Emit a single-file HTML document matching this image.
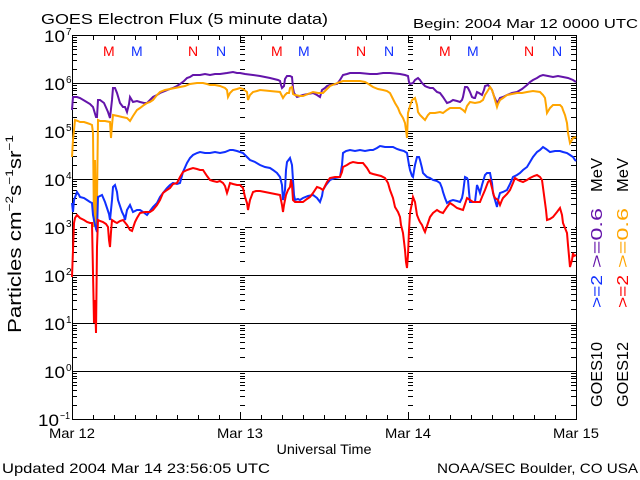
<!DOCTYPE html>
<html><head><meta charset="utf-8"><style>
html,body{margin:0;padding:0;background:#fff;}
svg{display:block;}
text{font-family:"Liberation Sans",sans-serif;}
</style></head><body>
<svg width="640" height="480" viewBox="0 0 640 480" xmlns="http://www.w3.org/2000/svg">
<rect width="640" height="480" fill="#fff"/>
<defs>
<path id="tk" d="M0 37.5h5M0 40.5h5M0 42.5h5M0 46.5h5M0 49.5h5M0 54.5h5M0 60.5h5M0 69.5h5
M0 85.5h5M0 88.5h5M0 90.5h5M0 94.5h5M0 97.5h5M0 102.5h5M0 108.5h5M0 117.5h5
M0 133.5h5M0 136.5h5M0 138.5h5M0 142.5h5M0 145.5h5M0 150.5h5M0 156.5h5M0 165.5h5
M0 181.5h5M0 184.5h5M0 186.5h5M0 190.5h5M0 193.5h5M0 198.5h5M0 204.5h5M0 213.5h5
M0 229.5h5M0 232.5h5M0 234.5h5M0 238.5h5M0 241.5h5M0 246.5h5M0 252.5h5M0 261.5h5
M0 277.5h5M0 280.5h5M0 282.5h5M0 286.5h5M0 289.5h5M0 294.5h5M0 300.5h5M0 309.5h5
M0 325.5h5M0 328.5h5M0 330.5h5M0 334.5h5M0 337.5h5M0 342.5h5M0 348.5h5M0 357.5h5
M0 373.5h5M0 376.5h5M0 378.5h5M0 382.5h5M0 385.5h5M0 390.5h5M0 396.5h5M0 405.5h5" stroke="#000" stroke-width="1" fill="none"/>
</defs>

<!-- grid -->
<path d="M72 83.5H576M72 131.5H576M72 179.5H576M72 275.5H576M72 323.5H576M72 371.5H576" stroke="#000" stroke-width="1"/>
<path d="M72 227.5H576" stroke="#000" stroke-width="1" stroke-dasharray="7 8" stroke-dashoffset="7"/>

<!-- axes box -->
<rect x="72.5" y="35.5" width="504" height="384" fill="none" stroke="#000" stroke-width="1"/>

<!-- y ticks -->
<use href="#tk" x="72"/>
<use href="#tk" x="240"/>
<use href="#tk" x="408"/>
<use href="#tk" transform="translate(576,0) scale(-1,1)"/>

<!-- x ticks -->
<path d="M93.5 419v-4M114.5 419v-4M135.5 419v-4M156.5 419v-4M177.5 419v-4M198.5 419v-4M219.5 419v-4M261.5 419v-4M282.5 419v-4M303.5 419v-4M324.5 419v-4M345.5 419v-4M366.5 419v-4M387.5 419v-4M429.5 419v-4M450.5 419v-4M471.5 419v-4M492.5 419v-4M513.5 419v-4M534.5 419v-4M555.5 419v-4
M240.5 419v-7M408.5 419v-7
M93.5 36v4M114.5 36v4M135.5 36v4M156.5 36v4M177.5 36v4M198.5 36v4M219.5 36v4M261.5 36v4M282.5 36v4M303.5 36v4M324.5 36v4M345.5 36v4M366.5 36v4M387.5 36v4M429.5 36v4M450.5 36v4M471.5 36v4M492.5 36v4M513.5 36v4M534.5 36v4M555.5 36v4
M240.5 36v7M408.5 36v7" stroke="#000" stroke-width="1" fill="none"/>

<!-- series -->
<g fill="none" stroke-width="2" stroke-linejoin="miter">
<polyline stroke="#6414aa" points="72,110 73,97 77,97 80,98 85,101 90,104 93,107 96,117 97,117 98,100 100,100 104,103 108,112 110,118 112,100 113,88 115,88 117,93 120,103 123,107 125,107 127,112 129,104 130,97 133,102 137,101 140,102 144,103 147,103 150,100 153,97 157,95 160,93 165,91 170,89 173,88 177,86 180,84 184,81 187,78 190,77 193,75 200,75 205,74 210,75 215,74 220,74 227,73 233,72 237,73 240,73 245,74 253,75 260,76 270,78 278,80 280,81 281,85 282,88 284,86 285,79 287,76 290,76 292,77 293,88 294,93 297,97 300,96 303,95 308,94 313,93 317,95 320,97 322,90 325,88 327,86 330,85 337,84 340,80 343,75 347,74 350,73 360,73 370,74 377,74 383,73 390,73 400,74 405,75 408,76 409,82 410,84 413,83 415,80 418,78 420,80 422,83 425,86 427,87 430,88 433,88 437,92 440,93 443,97 445,100 447,103 450,102 453,100 457,101 460,102 462,100 463,97 465,87 467,87 468,88 470,92 472,97 474,98 475,98 477,92 479,93 482,95 484,90 485,86 488,85 490,87 492,90 494,96 497,103 499,100 500,98 503,97 507,95 512,93 517,92 522,89 527,85 530,82 533,80 537,78 540,76 543,75 548,76 553,77 558,76 563,77 568,78 573,80 576,82"/>
<polyline stroke="#ffa500" points="72,157 73,140 74,130 75,120 78,121 80,122 84,122 87,123 90,124 92,125 93,133 94,227 95,160 96,230 97,200 98,120 100,121 105,121 110,122 111,138 112,125 113,115 118,116 122,117 127,118 130,121 133,116 137,110 140,108 144,105 147,103 150,102 153,100 157,95 160,92 165,90 170,89 175,88 180,87 185,86 190,84 197,83 203,83 207,84 210,85 215,85 220,86 225,88 227,90 228,97 230,93 233,90 237,89 240,88 243,89 247,92 248,100 250,95 253,92 257,91 260,90 270,91 280,92 282,96 283,98 285,95 287,93 289,93 290,88 292,87 293,94 295,95 300,96 303,96 308,94 313,92 318,93 323,93 327,89 330,86 335,84 340,82 343,81 350,81 360,81 365,82 367,83 370,85 373,87 378,89 383,90 387,91 390,93 392,97 395,103 398,108 400,113 403,118 405,123 406,130 407,138 408,113 410,106 412,100 415,98 417,105 418,112 420,115 423,118 425,120 428,115 430,113 435,113 440,112 443,113 447,110 450,108 455,108 460,108 463,110 465,112 467,106 470,102 475,103 480,102 483,100 485,95 487,92 490,87 492,90 493,93 495,100 497,107 498,104 500,100 503,98 507,95 512,94 517,93 522,93 527,92 533,91 540,92 543,95 545,98 546,105 547,113 550,108 553,105 557,105 560,105 562,107 563,110 565,115 567,123 568,133 570,143 572,140 573,138 576,137"/>
<polyline stroke="#1030ff" points="72,203 73,212 74,200 77,192 79,195 80,197 84,198 87,200 90,202 92,203 93,215 95,225 97,232 98,197 100,196 102,195 105,202 107,208 109,214 110,220 112,200 113,187 115,185 117,192 118,200 120,206 122,212 124,216 125,220 127,210 130,205 133,212 137,210 140,210 143,212 147,215 150,211 153,207 157,203 160,197 163,193 167,188 170,185 173,183 177,184 180,183 183,172 187,163 190,158 193,155 197,153 200,152 205,153 210,153 215,152 220,153 225,152 230,150 233,150 237,151 240,152 243,153 247,157 250,160 255,162 260,165 265,167 270,168 273,170 277,173 280,177 282,185 283,200 285,190 286,170 287,162 290,158 292,165 293,180 294,195 295,200 298,199 300,200 303,198 308,196 313,195 317,198 320,202 322,196 323,190 326,185 330,180 335,178 340,177 342,165 343,153 346,151 350,150 355,151 360,150 365,151 370,150 373,150 377,148 380,146 385,147 390,147 393,147 397,149 400,150 404,151 407,153 409,165 410,170 412,176 413,177 415,165 417,157 419,157 420,160 422,168 423,173 425,175 427,177 430,178 433,180 437,181 440,183 442,188 443,192 445,198 447,203 450,201 453,200 457,201 460,202 462,198 463,193 465,177 467,178 468,180 469,192 470,202 473,202 475,202 477,185 479,190 480,193 482,185 485,175 487,173 490,173 492,183 493,193 495,200 497,207 498,200 500,193 503,192 507,190 510,184 513,177 517,175 520,173 523,170 527,167 530,162 533,157 537,152 540,150 543,147 546,149 550,152 555,151 560,151 563,152 567,153 570,155 573,157 575,160 576,161"/>
<polyline stroke="#ff0000" points="72,277 73,250 74,223 75,218 77,215 80,218 84,220 87,222 90,223 92,223 93,273 94,323 95,300 96,333 97,247 98,220 100,221 103,222 106,224 108,227 109,240 110,247 111,232 112,220 115,222 117,223 120,221 123,220 127,225 130,230 132,231 133,228 135,222 137,218 140,213 145,212 150,212 153,210 157,205 160,200 163,193 167,190 170,188 173,184 177,183 180,177 183,172 187,170 190,169 193,168 197,169 200,170 203,170 207,176 210,180 213,181 217,182 220,181 223,183 225,186 227,193 228,190 230,183 233,184 237,185 240,185 243,188 245,197 247,203 248,210 250,200 253,192 256,191 260,191 265,192 270,193 275,194 280,195 282,205 283,212 284,205 286,195 288,190 290,187 291,180 292,185 293,200 295,202 298,202 300,202 303,202 307,199 310,197 313,193 317,187 320,188 323,190 327,182 330,178 335,177 340,177 342,172 343,167 347,165 350,163 353,162 358,163 363,163 367,168 370,173 373,174 377,175 381,176 385,178 388,183 390,190 393,198 395,207 398,212 400,217 401,225 403,233 405,250 406,262 407,268 408,255 409,230 410,213 412,203 413,197 415,202 417,215 419,220 420,222 422,225 424,230 425,232 427,226 430,217 433,213 437,210 440,212 443,213 447,207 450,203 453,205 457,208 460,209 463,210 465,204 467,198 470,200 473,202 477,202 480,202 482,197 485,190 488,182 490,180 492,188 494,196 495,198 498,200 500,205 502,200 503,198 507,194 510,190 513,183 515,178 518,180 520,181 523,182 527,180 530,178 534,176 537,175 540,177 542,180 544,195 546,210 547,220 550,219 553,217 557,212 560,208 562,215 563,223 565,228 567,233 568,245 570,267 572,260 573,253 574,256 576,255"/>
</g>

<!-- titles -->
<text x="41" y="24" font-size="15" textLength="287" lengthAdjust="spacingAndGlyphs">GOES Electron Flux (5 minute data)</text>
<text x="413" y="28" font-size="13" textLength="225" lengthAdjust="spacingAndGlyphs">Begin: 2004 Mar 12 0000 UTC</text>

<!-- M/N markers -->
<g font-size="14">
<text x="103" y="56" fill="#ff0000">M</text>
<text x="131" y="56" fill="#1030ff">M</text>
<text x="188" y="56" fill="#ff0000">N</text>
<text x="216" y="56" fill="#1030ff">N</text>
<text x="271" y="56" fill="#ff0000">M</text>
<text x="298" y="56" fill="#1030ff">M</text>
<text x="356" y="56" fill="#ff0000">N</text>
<text x="384" y="56" fill="#1030ff">N</text>
<text x="439" y="56" fill="#ff0000">M</text>
<text x="467" y="56" fill="#1030ff">M</text>
<text x="524" y="56" fill="#ff0000">N</text>
<text x="552" y="56" fill="#1030ff">N</text>
</g>

<!-- y labels -->
<g font-size="16.5">
<text x="44" y="42" textLength="21" lengthAdjust="spacingAndGlyphs">10</text>
<text x="44" y="90" textLength="21" lengthAdjust="spacingAndGlyphs">10</text>
<text x="44" y="138" textLength="21" lengthAdjust="spacingAndGlyphs">10</text>
<text x="44" y="186" textLength="21" lengthAdjust="spacingAndGlyphs">10</text>
<text x="44" y="234" textLength="21" lengthAdjust="spacingAndGlyphs">10</text>
<text x="44" y="282" textLength="21" lengthAdjust="spacingAndGlyphs">10</text>
<text x="44" y="330" textLength="21" lengthAdjust="spacingAndGlyphs">10</text>
<text x="44" y="378" textLength="21" lengthAdjust="spacingAndGlyphs">10</text>
<text x="38" y="426" textLength="21" lengthAdjust="spacingAndGlyphs">10</text>
</g>
<g font-size="10">
<text x="66" y="35">7</text>
<text x="66" y="83">6</text>
<text x="66" y="131">5</text>
<text x="66" y="179">4</text>
<text x="66" y="227">3</text>
<text x="66" y="275">2</text>
<text x="66" y="323">1</text>
<text x="66" y="371">0</text>
<text x="60" y="419" textLength="10" lengthAdjust="spacingAndGlyphs">−1</text>
</g>

<!-- y title -->
<text transform="translate(21,333) rotate(-90)" font-size="18" textLength="198" lengthAdjust="spacingAndGlyphs">Particles cm<tspan font-size="11" dy="-8">−2</tspan><tspan dy="8">s</tspan><tspan font-size="11" dy="-8">−1</tspan><tspan dy="8">sr</tspan><tspan font-size="11" dy="-8">−1</tspan></text>

<!-- x labels -->
<g font-size="14" text-anchor="middle">
<text x="72" y="438" textLength="46" lengthAdjust="spacingAndGlyphs">Mar 12</text>
<text x="240" y="438" textLength="46" lengthAdjust="spacingAndGlyphs">Mar 13</text>
<text x="408" y="438" textLength="46" lengthAdjust="spacingAndGlyphs">Mar 14</text>
<text x="576" y="438" textLength="46" lengthAdjust="spacingAndGlyphs">Mar 15</text>
<text x="324" y="454" textLength="95" lengthAdjust="spacingAndGlyphs">Universal Time</text>
</g>
<text x="2" y="473" font-size="14" textLength="268" lengthAdjust="spacingAndGlyphs">Updated 2004 Mar 14 23:56:05 UTC</text>
<text x="437" y="473" font-size="14" textLength="201" lengthAdjust="spacingAndGlyphs">NOAA/SEC Boulder, CO USA</text>

<!-- right legend -->
<g font-size="16">
<text transform="translate(602,407) rotate(-90)" textLength="65" lengthAdjust="spacingAndGlyphs">GOES10</text>
<text transform="translate(602,308) rotate(-90)" fill="#1030ff" textLength="33" lengthAdjust="spacingAndGlyphs">&gt;=2</text>
<text transform="translate(602,268) rotate(-90)" fill="#6414aa" textLength="60" lengthAdjust="spacingAndGlyphs">&gt;=0.6</text>
<text transform="translate(602,192) rotate(-90)" textLength="34" lengthAdjust="spacingAndGlyphs">MeV</text>
<text transform="translate(628,407) rotate(-90)" textLength="65" lengthAdjust="spacingAndGlyphs">GOES12</text>
<text transform="translate(628,308) rotate(-90)" fill="#ff0000" textLength="33" lengthAdjust="spacingAndGlyphs">&gt;=2</text>
<text transform="translate(628,268) rotate(-90)" fill="#ffa500" textLength="60" lengthAdjust="spacingAndGlyphs">&gt;=0.6</text>
<text transform="translate(628,192) rotate(-90)" textLength="34" lengthAdjust="spacingAndGlyphs">MeV</text>
</g>
</svg>
</body></html>
